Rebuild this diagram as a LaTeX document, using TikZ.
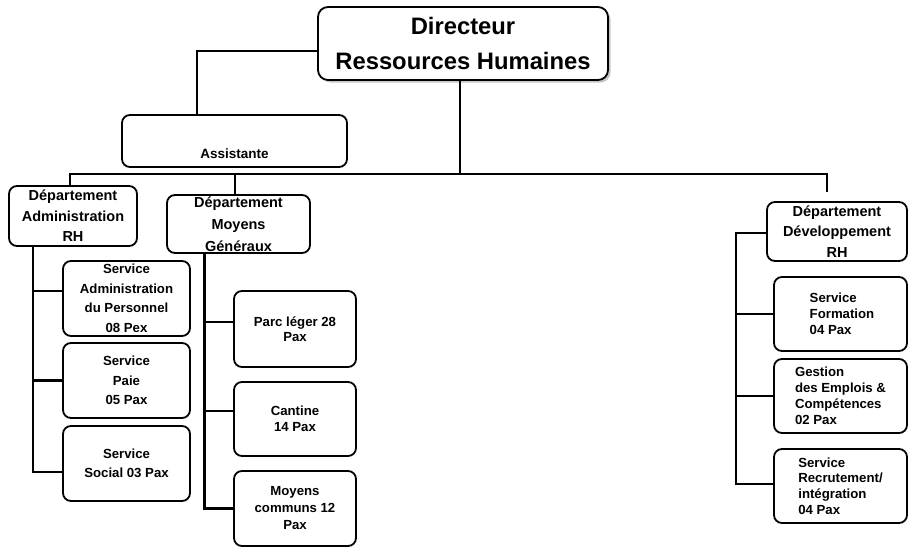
\documentclass[tikz,border=0pt]{standalone}
\usepackage{fontspec}
\setmainfont{Liberation Sans}
\usetikzlibrary{shadows}
\begin{document}
\begin{tikzpicture}[x=1pt,y=-1pt,
  box/.style={draw, line width=1.8pt, rounded corners=8pt, fill=white, inner sep=0pt, align=center,
    font={\bfseries\fontsize{13.2}{19.5}\selectfont}},
  dept/.style={box, font={\bfseries\fontsize{14.5}{20.5}\selectfont}},
  tight/.style={font={\bfseries\fontsize{13.2}{15.5}\selectfont}},
  conn/.style={line width=2.7pt}]
\useasboundingbox (0,0) rectangle (909,549);

\node[box, rounded corners=10pt, minimum width=290pt, minimum height=73pt,
  font={\bfseries\fontsize{23.8}{35}\selectfont},
  drop shadow={shadow xshift=2.5pt, shadow yshift=-2.5pt, opacity=.45}] (dir) at (463,43.5) {Directeur\\Ressources Humaines};

\node[box, minimum width=225pt, minimum height=52pt] (asst) at (234.5,141) {};
\node[anchor=base, font={\bfseries\fontsize{13.5}{16}\selectfont}] (asstxt) at (234.5,158) {Assistante};

\node[dept, minimum width=128pt, minimum height=60pt] (dadm) at (73,216) {Département\\Administration\\RH};
\node[dept, minimum width=143pt, minimum height=58pt, font={\bfseries\fontsize{14.5}{22}\selectfont}] (dmoy) at (238.5,224) {Département\\Moyens\\Généraux};
\node[dept, minimum width=140pt, minimum height=59pt] (ddev) at (837,231.5) {Département\\Développement\\RH};

\node[box, minimum width=127pt, minimum height=75pt] (sap) at (126.5,298.5) {Service\\Administration\\du Personnel\\ 08 Pex};
\node[box, minimum width=127pt, minimum height=75pt] (spaie) at (126.5,380.5) {Service\\Paie\\ 05 Pax};
\node[box, minimum width=127pt, minimum height=75pt] (ssoc) at (126.5,463.5) {Service\\Social 03 Pax};

\node[box, tight, minimum width=122pt, minimum height=76pt] (sparc) at (295,329) {Parc léger 28\\Pax};
\node[box, tight, minimum width=122pt, minimum height=74pt] (scant) at (295,419) {Cantine\\14 Pax};
\node[box, minimum width=122pt, minimum height=75pt, font={\bfseries\fontsize{13.2}{17}\selectfont}] (scomm) at (295,508.5) {Moyens\\communs 12\\Pax};

\node[box, tight, align=left, minimum width=133pt, minimum height=74pt, font={\bfseries\fontsize{13.2}{16}\selectfont}] (sform) at (840.5,314) {\hspace*{3pt}Service\\\hspace*{3pt}Formation\\\hspace*{3pt}04 Pax};
\node[box, tight, align=left, minimum width=133pt, minimum height=74pt, font={\bfseries\fontsize{13.2}{16}\selectfont}] (sgest) at (840.5,396) {Gestion\\des Emplois \&\\Compétences\\02 Pax};
\node[box, tight, align=left, minimum width=133pt, minimum height=74pt, font={\bfseries\fontsize{13.2}{15.7}\selectfont}] (srec) at (840.5,486) {Service\\Recrutement/\\intégration\\04 Pax};

% connectors
\draw[conn] ([yshift=-7.5pt]dir.west) -| ([xshift=-37.5pt]asst.north);
\coordinate (busy) at ([yshift=27pt]ddev.north);
\draw[conn] ([xshift=-3pt]dir.south) -- ([xshift=-3pt]dir.south |- busy);
\draw[conn] ([xshift=-3pt]dadm.north) |- ([xshift=-10pt,yshift=27pt]ddev.north) -- ([xshift=-10pt,yshift=9pt]ddev.north);
\draw[conn] ([xshift=-3.5pt]dmoy.north) -- ([xshift=-3.5pt]dmoy.north |- busy);

\coordinate (ta) at ([xshift=-40pt]dadm.south);
\draw[conn] (ta) |- ([yshift=-8.5pt]ssoc.west);
\draw[conn] ([yshift=7.5pt]sap.west) -- ([yshift=7.5pt]sap.west -| ta);
\draw[conn] (spaie.west) -- (spaie.west -| ta);

\coordinate (tm) at ([xshift=-34pt]dmoy.south);
\draw[conn] (tm) |- (scomm.west);
\draw[conn] ([yshift=7pt]sparc.west) -- ([yshift=7pt]sparc.west -| tm);
\draw[conn] ([yshift=8pt]scant.west) -- ([yshift=8pt]scant.west -| tm);

\coordinate (td) at ([xshift=-30pt,yshift=-1.5pt]ddev.west);
\draw[conn] ([yshift=-1.5pt]ddev.west) -- (td) |- ([yshift=2pt]srec.west);
\draw[conn] (sform.west) -- (sform.west -| td);
\draw[conn] (sgest.west) -- (sgest.west -| td);
\end{tikzpicture}
\end{document}
